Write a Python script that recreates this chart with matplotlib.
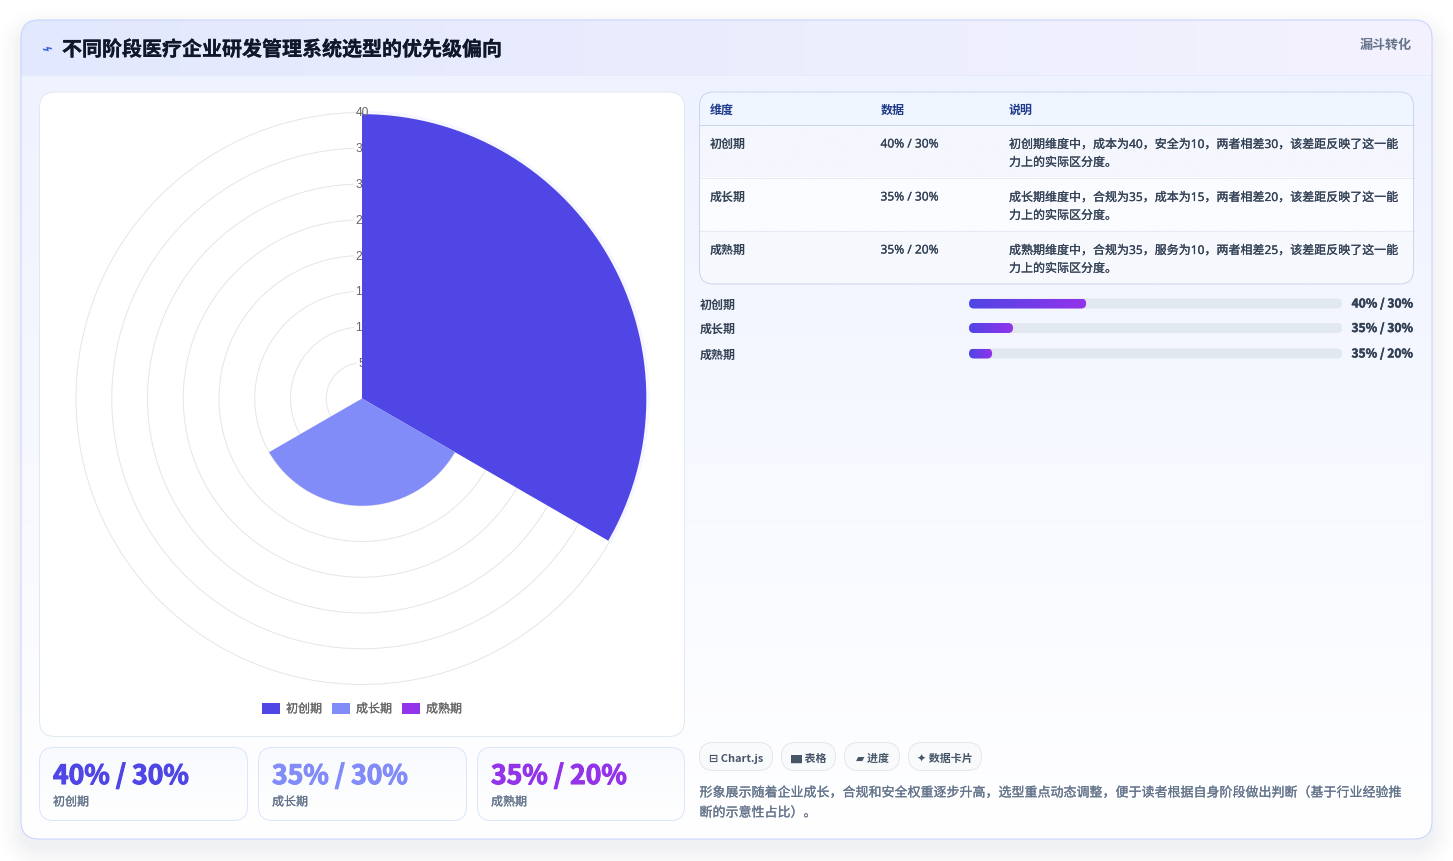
#!/usr/bin/env python3
"""Polar area chart of R&D system priorities, with the dashboard card around it."""

import matplotlib
matplotlib.use("Agg")
import matplotlib.patheffects as pe
import matplotlib.pyplot as plt
import numpy as np
from matplotlib.patches import FancyBboxPatch, Patch

plt.rcParams["font.family"] = ["Noto Sans", "Noto Sans CJK SC", "DejaVu Sans"]
BOLD_FONT = ["Noto Sans CJK SC", "DejaVu Sans"]

W, H = 1453, 862

phases = ["初创期", "成长期", "成熟期"]
polar_values = [40, 15, 0]
radial_ticks = [5, 10, 15, 20, 25, 30, 35, 40]
pair_labels = ["40% / 30%", "35% / 30%", "35% / 20%"]
bar_fill_pct = [31.4, 11.8, 6.2]
notes = [
    ["初创期维度中，成本为40，安全为10，两者相差30，该差距反映了这一能", "力上的实际区分度。"],
    ["成长期维度中，合规为35，成本为15，两者相差20，该差距反映了这一能", "力上的实际区分度。"],
    ["成熟期维度中，合规为35，服务为10，两者相差25，该差距反映了这一能", "力上的实际区分度。"],
]
table_headers = ["维度", "数据", "说明"]
chips = ["⊟ Chart.js", "▆ 表格", "▰ 进度", "✦ 数据卡片"]
title = "不同阶段医疗企业研发管理系统选型的优先级偏向"
badge = "漏斗转化"
caption = [
    "形象展示随着企业成长，合规和安全权重逐步升高，选型重点动态调整，便于读者根据自身阶段做出判断（基于行业经验推",
    "断的示意性占比）。",
]
colors = ["#4f46e5", "#818cf8", "#9333ea"]


def px(size):
    return size * 0.72


def thick(color, width=0.15):
    # no medium or black weights installed, so fatten the outline a little
    return [pe.withStroke(linewidth=width, foreground=color)]


def rounded(ax, x0, y0, x1, y1, r, fc="none", ec="none", lw=0.72, z=1):
    p = FancyBboxPatch((x0, y0), x1 - x0, y1 - y0, boxstyle=f"round,pad=0,rounding_size={r}",
                       fc=fc, ec=ec, lw=lw, zorder=z)
    ax.add_patch(p)
    return p


def gradient(ax, clip, x0, y0, x1, y1, c0, c1, horizontal=False, z=1):
    a = np.array(matplotlib.colors.to_rgb(c0))
    b = np.array(matplotlib.colors.to_rgb(c1))
    t = np.linspace(0, 1, 256)
    img = a + (b - a) * t[:, None]
    img = img[None, :, :] if horizontal else img[:, None, :]
    xlim, ylim = ax.get_xlim(), ax.get_ylim()
    im = ax.imshow(img, extent=(x0, x1, y1, y0), aspect="auto", zorder=z, interpolation="bilinear")
    im.set_clip_path(clip)
    ax.set_xlim(xlim)
    ax.set_ylim(ylim)
    return im


fig = plt.figure(figsize=(W / 100, H / 100), dpi=100, facecolor="white")

# page layer in pixel coordinates
bg = fig.add_axes([0, 0, 1, 1])
bg.axis("off")
bg.set_xlim(0, W)
bg.set_ylim(H, 0)

# soft shadow under the card
yy, xx = np.mgrid[0:H, 0:W]
cx, cy, hw, hh, rad = 726.5, 430.5, 705.5, 409.5, 18
qx = np.abs(xx + 0.5 - cx) - (hw - rad)
qy = np.abs(yy + 0.5 - (cy + 10)) - (hh - rad)
dist = np.hypot(np.maximum(qx, 0), np.maximum(qy, 0)) + np.minimum(np.maximum(qx, qy), 0) - rad
shadow = np.clip(1 - dist / 30, 0, 1) ** 2 * 0.065
rgba = np.zeros((H, W, 4))
rgba[..., :3] = (0.12, 0.16, 0.28)
rgba[..., 3] = shadow
bg.imshow(rgba, extent=(0, W, H, 0), aspect="auto", zorder=0)
bg.set_xlim(0, W)
bg.set_ylim(H, 0)

# main card
card = rounded(bg, 21, 21, 1432, 840, 18, fc="white", z=1)
gradient(bg, card, 21, 21, 1432, 840, "#eef2ff", "#ffffff", z=1.1)
gradient(bg, card, 21, 21, 1432, 76, "#e2e8fd", "#f4f2fe", horizontal=True, z=1.2)
bg.plot([21, 1432], [76, 76], color="#e6eafb", lw=0.72, zorder=1.3)
rounded(bg, 21, 21, 1432, 840, 18, ec="#c7d2fe", z=1.4)

bg.text(47, 50, "⌁", fontsize=px(18), color="#2f5be0", ha="center", va="center", zorder=3,
        family="DejaVu Sans", rotation=20)
bg.text(62, 50.2, title, fontsize=px(20), fontweight="bold", color="#0f172a", va="center", zorder=3,
        family=BOLD_FONT, path_effects=thick("#0f172a", 0.2))
bg.text(1412, 45, badge, fontsize=px(13), fontweight="bold", color="#64748b", ha="right",
        va="center", zorder=3, family=BOLD_FONT)

# chart panel
rounded(bg, 39.5, 93, 684.5, 737.5, 16, fc="white", ec="#e2e8f0", z=2)

# stat cards
stat_x = [(39.5, 247.5), (258.5, 466.5), (477.5, 684.5)]
for i, (x0, x1) in enumerate(stat_x):
    sc = rounded(bg, x0, 748.5, x1, 821.5, 14, fc="white", z=2)
    gradient(bg, sc, x0, 748.5, x1, 821.5, "#f8fafe", "#ffffff", z=2.1)
    rounded(bg, x0, 748.5, x1, 821.5, 14, ec="#dbe6fb", z=2.2)
    bg.text(x0 + 13.5, 777.5, pair_labels[i], fontsize=px(26.5), fontweight="bold", color=colors[i],
            va="center", zorder=3, family=BOLD_FONT, path_effects=thick(colors[i], 0.8))
    bg.text(x0 + 13.5, 803, phases[i], fontsize=px(12), color="#64748b", va="center", zorder=3,
            path_effects=thick("#64748b"))

# table
tb = rounded(bg, 699.5, 93, 1413.5, 285, 14, fc="#f8faff", z=2)
row_tops = [126, 178.5, 231.5]
row_bots = [178.5, 231.5, 285]
row_bg = ["#f5f7fe", "#fbfcff", "#f7f9fe"]
gradient(bg, tb, 699.5, 93, 1413.5, 126, "#f0f6ff", "#f0f6ff", z=2.1)
for i in range(3):
    gradient(bg, tb, 699.5, row_tops[i], 1413.5, row_bots[i], row_bg[i], row_bg[i], z=2.1)
    bg.plot([699.5, 1413.5], [row_tops[i], row_tops[i]], color="#cbd5e8" if i == 0 else "#e6eaf3",
            lw=0.72, zorder=2.3)
rounded(bg, 699.5, 93, 1413.5, 285, 14, ec="#ccd6ea", z=2.4)
col_x = [710, 880.5, 1009]
for x, h in zip(col_x, table_headers):
    bg.text(x, 110, h, fontsize=px(12), fontweight="bold", color="#1e3a8a", va="center", zorder=3,
            family=BOLD_FONT)
for i in range(3):
    y = 144 + 53 * i
    bg.text(col_x[0], y, phases[i], fontsize=px(12), fontweight="bold", color="#334155", va="center",
            zorder=3, family=BOLD_FONT)
    bg.text(col_x[1], y + 1, pair_labels[i], fontsize=px(12), color="#334155", va="center", zorder=3,
            path_effects=thick("#334155"))
    for j, line in enumerate(notes[i]):
        bg.text(col_x[2], y + 1.5 + 18 * j, line, fontsize=px(12), color="#334155", va="center", zorder=3,
                path_effects=thick("#334155"))

# progress rows
row_y = [304, 328.5, 354]
for i in range(3):
    bg.text(699.5, row_y[i] + 1, phases[i], fontsize=px(12), fontweight="bold", color="#334155",
            va="center", zorder=3, family=BOLD_FONT)
    bg.text(1413, row_y[i] + 1, pair_labels[i], fontsize=px(12), fontweight="bold", color="#334155",
            ha="right", va="center", zorder=3, family=BOLD_FONT, path_effects=thick("#334155", 0.3))

# chips and caption
chip_x = [(699.5, 772.5), (781.5, 835.5), (844.5, 899.5), (908.5, 981.5)]
for (x0, x1), label in zip(chip_x, chips):
    rounded(bg, x0, 743.5, x1, 771.5, 14, fc="#f8fafc", ec="#e2e8f0", z=2)
    bg.text((x0 + x1) / 2, 759, label, fontsize=px(11), fontweight="bold", color="#475569",
            ha="center", va="center", zorder=3, family=BOLD_FONT)
for j, line in enumerate(caption):
    bg.text(699.5, 794 + 20 * j, line, fontsize=px(13), color="#64748b", va="center", zorder=3,
            path_effects=thick("#64748b"))

# progress bars, x axis is percent of the track
bars = fig.add_axes([969 / W, 1 - 360 / H, 373 / W, 62 / H], zorder=2)
bars.axis("off")
bars.set_xlim(0, 100)
bars.set_ylim(360, 298)
unit = 373 / 100
for i, pct in enumerate(bar_fill_pct):
    y0 = row_y[i] - 4.5
    track = FancyBboxPatch((0, y0), 100, 10, boxstyle=f"round,pad=0,rounding_size={5 / unit}",
                           mutation_aspect=unit, fc="#e2e8f0", ec="none", zorder=1)
    bars.add_patch(track)
    fill = FancyBboxPatch((0, y0), pct, 10, boxstyle=f"round,pad=0,rounding_size={5 / unit}",
                          mutation_aspect=unit, fc="none", ec="none", zorder=2)
    bars.add_patch(fill)
    gradient(bars, fill, 0, y0, pct, y0 + 10, colors[0], colors[2], horizontal=True, z=2)

# polar area chart
R = 286
ax = fig.add_axes([(362 - R) / W, 1 - (399.5 + R) / H, 2 * R / W, 2 * R / H], projection="polar", zorder=3)
ax.patch.set_alpha(0)
ax.set_theta_zero_location("N")
ax.set_theta_direction(-1)
ax.set_ylim(0, max(radial_ticks))
ax.spines["polar"].set_visible(False)
n = len(phases)
step = 2 * np.pi / n
starts = np.arange(n) * step
ax.bar(starts, polar_values, width=step, align="edge", color=colors, linewidth=0, zorder=1)
# pale rim on the outer arc of the big sector
arc = np.linspace(starts[0], starts[0] + step, 200)
ax.plot(arc, np.full(arc.shape, polar_values[0]), color="#f5f6ff", lw=2.4, zorder=1.5, clip_on=False,
        solid_capstyle="butt")
ax.set_axisbelow(True)
ax.set_xticks([])
ax.set_yticks(radial_ticks)
ax.set_yticklabels([])
ax.tick_params(axis="y", length=0)
ax.grid(True, color="#e6e6e6", lw=0.72)
for line in ax.get_ygridlines():
    line.set_clip_on(False)
for v in radial_ticks:
    # the top label sits clear of the sector, the others are cut by it
    ax.text(0, v, str(v), fontsize=px(12), color="#666666", family="Liberation Sans", ha="center", va="center",
            zorder=2 if v == max(radial_ticks) else 0.7,
            bbox=None if v == max(radial_ticks) else dict(fc="white", ec="none", pad=1))

handles = [Patch(fc=c, ec="none") for c in colors]
leg = fig.legend(handles, phases, loc="center", bbox_to_anchor=(362 / W, 1 - 710 / H), ncol=3, frameon=False,
                 prop={"size": px(12), "family": BOLD_FONT}, handlelength=1.5, handleheight=1.0, handletextpad=0.5,
                 columnspacing=0.83, labelcolor="#666666", borderpad=0)
for t in leg.get_texts():
    t.set_path_effects(thick("#666666"))

fig.savefig("out.png", dpi=100, facecolor="white")
